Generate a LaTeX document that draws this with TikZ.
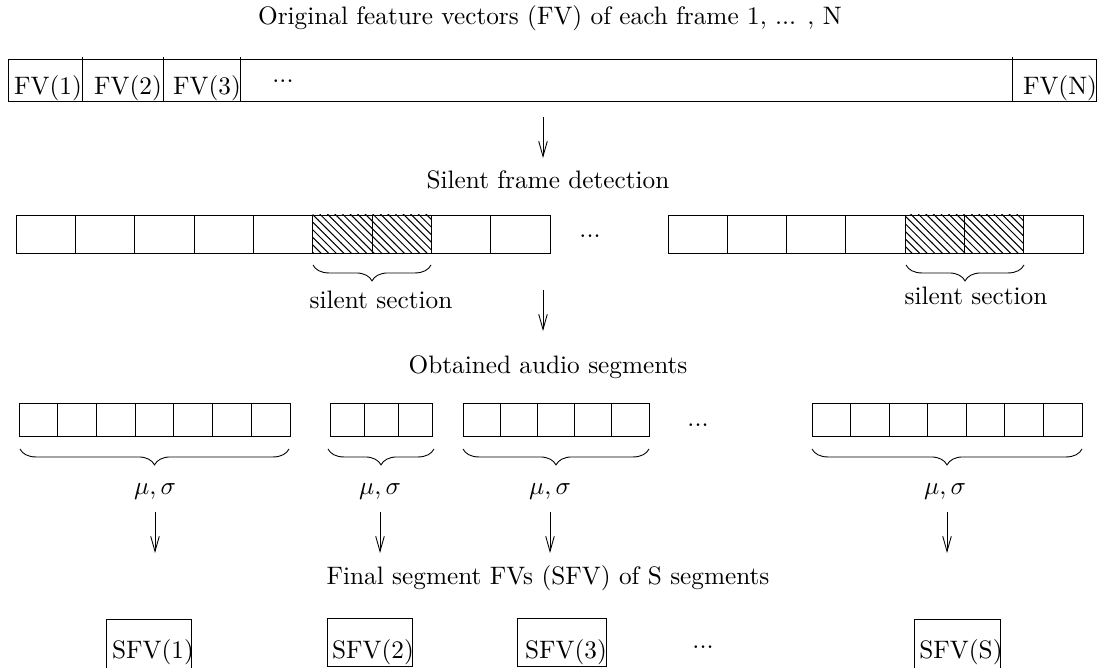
\documentclass[tikz,border=0pt]{standalone}
\usetikzlibrary{patterns,decorations.pathreplacing,arrows.meta}
\tikzset{
  hatch/.style={pattern=north west lines},
  brc/.style={decorate,decoration={brace,mirror,amplitude=6.3pt},line width=0.35pt},
  flow/.style={line width=0.35pt,-{Straight Barb[length=6pt,width=3.4pt,line width=0.35pt]}},
  lbl/.style={anchor=base,inner sep=0pt},
}
\begin{document}
\begin{tikzpicture}[x=0.396pt,y=-0.396pt,line width=0.35pt]
\useasboundingbox (0,0) rectangle (1097,667);
% title
\node[lbl] (t1) at (550,25) {Original feature vectors (FV) of each frame 1, ... , N};
% top bar
\draw (8,59) rectangle (1096,101);
\foreach \x in {82,163,240,1012} \draw (\x,57) -- (\x,101);
\node[lbl] (fv1) at (48,95) {FV(1)};
\node[lbl] (fv2) at (128,95) {FV(2)};
\node[lbl] (fv3) at (207,95) {FV(3)};
\node[lbl] (fvd) at (283,83) {...};
\node[lbl] (fvn) at (1060,95) {FV(N)};
% arrow 1
\coordinate (a1s) at (543,117);
\coordinate (a1e) at (543,158);
\draw[flow] (a1s) -- (a1e);
\node[lbl] (t2) at (548,189) {Silent frame detection};
% row 2
\foreach \i in {5,6} \fill[hatch] (16+59.33*\i,215) rectangle ++(59.33,38);
\foreach \i in {0,...,8} \draw (16+59.33*\i,215) rectangle ++(59.33,38);
\foreach \i in {4,5} \fill[hatch] (668+59.3*\i,215) rectangle ++(59.3,38);
\foreach \i in {0,...,6} \draw (668+59.3*\i,215) rectangle ++(59.3,38);
\node[lbl] (r2d) at (590,238) {...};
\coordinate (b1l) at (313,265);
\coordinate (b1r) at (431,265);
\draw[brc] (b1l) -- (b1r);
\coordinate (b2l) at (906,265);
\coordinate (b2r) at (1024,265);
\draw[brc] (b2l) -- (b2r);
\node[lbl] (s1) at (381,308) {silent section};
\node[lbl] (s2) at (976,304) {silent section};
% arrow 2
\coordinate (a2s) at (543,290);
\coordinate (a2e) at (543,331);
\draw[flow] (a2s) -- (a2e);
\node[lbl] (t3) at (548,373) {Obtained audio segments};
% row 3
\foreach \i in {0,...,6} \draw (19+38.71*\i,403) rectangle ++(38.71,33);
\foreach \i in {0,...,2} \draw (330+34*\i,403) rectangle ++(34,33);
\foreach \i in {0,...,4} \draw (463+37.2*\i,403) rectangle ++(37.2,33);
\foreach \i in {0,...,6} \draw (812+38.57*\i,403) rectangle ++(38.57,33);
\node[lbl] (r3d) at (698,426) {...};
\coordinate (c1l) at (20,449);
\coordinate (c1r) at (289,449);
\draw[brc] (c1l) -- (c1r);
\coordinate (c2l) at (328,449);
\coordinate (c2r) at (434,449);
\draw[brc] (c2l) -- (c2r);
\coordinate (c3l) at (463,449);
\coordinate (c3r) at (649,449);
\draw[brc] (c3l) -- (c3r);
\coordinate (c4l) at (812,449);
\coordinate (c4r) at (1082,449);
\draw[brc] (c4l) -- (c4r);
\node[lbl] (m1) at (155,494) {$\mu,\sigma$};
\node[lbl] (m2) at (380,494) {$\mu,\sigma$};
\node[lbl] (m3) at (550,494) {$\mu,\sigma$};
\node[lbl] (m4) at (945,494) {$\mu,\sigma$};
% arrows 3
\foreach \x/\n in {155/1,380/2,550/3,947/4}{
  \coordinate (d\n s) at (\x,512);
  \coordinate (d\n e) at (\x,553);
  \draw[flow] (d\n s) -- (d\n e);
}
\node[lbl] (t4) at (548,584) {Final segment FVs (SFV) of S segments};
% SFV boxes
\draw (106,668) -- (106,619) -- (191,619) -- (191,668);
\draw (327,666) -- (327,618) -- (412,618) -- (412,666) -- cycle;
\draw (517,666) -- (517,618) -- (606,618) -- (606,666) -- cycle;
\draw (914,668) -- (914,619) -- (1000,619) -- (1000,668);
\node[lbl] (f1) at (153,658) {SFV(1)};
\node[lbl] (f2) at (373,658) {SFV(2)};
\node[lbl] (f3) at (566,658) {SFV(3)};
\node[lbl] (fd) at (703,648) {...};
\node[lbl] (fs) at (961,658) {SFV(S)};
\end{tikzpicture}
\end{document}
